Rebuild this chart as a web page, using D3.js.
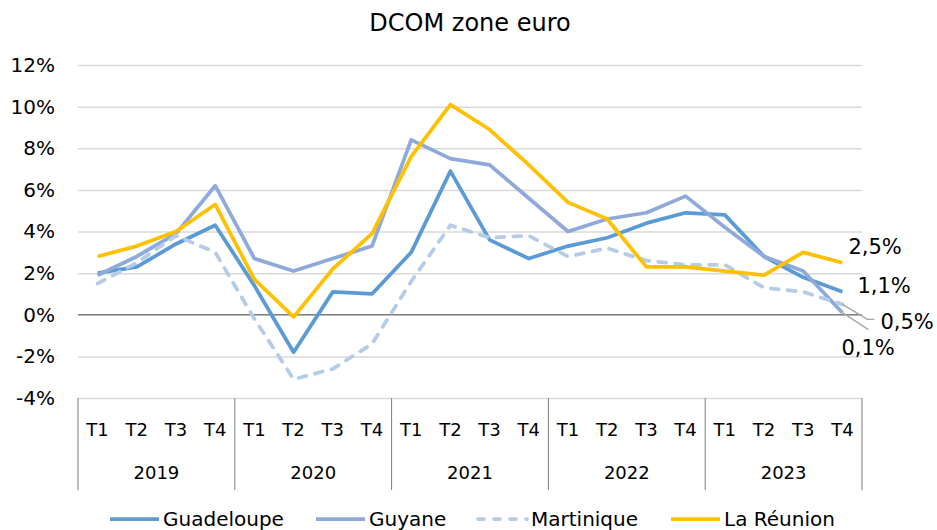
<!DOCTYPE html>
<html>
<head>
<meta charset="utf-8">
<script src="https://cdn.jsdelivr.net/npm/d3@7"></script>
<style>
  html, body { margin: 0; padding: 0; background: #fff; }
  svg { display: block; font-family: "DejaVu Sans", Verdana, sans-serif; }
</style>
</head>
<body>
<svg id="chart" width="937" height="530"></svg>
<script>
const years = ["2019", "2020", "2021", "2022", "2023"];
const quarters = ["T1", "T2", "T3", "T4"];
const yTicks = [-4, -2, 0, 2, 4, 6, 8, 10, 12];

const guadeloupe = [2.0, 2.3, 3.4, 4.3, 1.4, -1.8, 1.1, 1.0, 3.0, 6.9, 3.6, 2.7, 3.3, 3.7, 4.4, 4.9, 4.8, 2.8, 1.8, 1.1];
const guyane     = [1.9, 2.8, 3.9, 6.2, 2.7, 2.1, 2.7, 3.3, 8.4, 7.5, 7.2, 5.6, 4.0, 4.6, 4.9, 5.7, 4.2, 2.8, 2.1, 0.1];
const martinique = [1.5, 2.5, 3.8, 3.0, -0.2, -3.1, -2.6, -1.4, 1.6, 4.3, 3.7, 3.8, 2.8, 3.2, 2.6, 2.4, 2.4, 1.3, 1.1, 0.5];
const reunion    = [2.8, 3.3, 4.0, 5.3, 1.7, -0.1, 2.2, 3.9, 7.6, 10.1, 8.9, 7.2, 5.4, 4.6, 2.3, 2.3, 2.1, 1.9, 3.0, 2.5];

const seriesNames = ["Guadeloupe", "Guyane", "Martinique", "La Réunion"];
const seriesColors = ["#5B9BD5", "#8EAADB", "#B4CCE8", "#FFC000"];
const seriesDash = [null, null, "8,9", null];
const endLabels = ["1,1%", "0,1%", "0,5%", "2,5%"];

const seriesData = [guadeloupe, guyane, martinique, reunion];

(function () {
const svg = d3.select("#chart");
const pLeft = 78, pRight = 862, pTop = 65, pBottom = 398;

const categories = [];
years.forEach(yr => quarters.forEach(q => categories.push(yr + "-" + q)));

const x = d3.scaleBand().domain(categories).range([pLeft, pRight]).padding(0);
const y = d3.scaleLinear().domain([-4, 12]).range([pBottom, pTop]);
const cx = c => x(c) + x.bandwidth() / 2;

// Title
svg.append("text").attr("x", 470).attr("y", 31).attr("text-anchor", "middle")
  .attr("font-size", 24).attr("fill", "#000").text("DCOM zone euro");

// Grid + y axis
const yAxis = d3.axisLeft(y).tickValues(yTicks).tickFormat(d => d + "%")
  .tickSizeInner(-(pRight - pLeft)).tickSizeOuter(0).tickPadding(23);
const gy = svg.append("g").attr("transform", `translate(${pLeft},0)`).call(yAxis);
gy.select(".domain").remove();
gy.selectAll(".tick line").attr("stroke", "#D9D9D9").attr("stroke-width", 1.5);
gy.selectAll(".tick text").attr("font-size", 20).attr("fill", "#000")
  .attr("font-family", "DejaVu Sans, Verdana, sans-serif");

// zero line
svg.append("line").attr("x1", pLeft).attr("x2", pRight).attr("y1", y(0)).attr("y2", y(0))
  .attr("stroke", "#595959").attr("stroke-width", 1);

// Category axis (two levels)
const yearScale = d3.scaleBand().domain(years).range([pLeft, pRight]).padding(0);
const dividers = years.map(yr => yearScale(yr)).concat([pRight]);
svg.append("g").selectAll("line").data(dividers).join("line")
  .attr("x1", d => d).attr("x2", d => d).attr("y1", pBottom).attr("y2", 490)
  .attr("stroke", "#7F7F7F").attr("stroke-width", 1);

svg.append("g").selectAll("text").data(categories).join("text")
  .attr("x", d => cx(d)).attr("y", 436).attr("text-anchor", "middle")
  .attr("font-size", 18).attr("fill", "#000").text(d => d.split("-")[1]);

svg.append("g").selectAll("text").data(years).join("text")
  .attr("x", d => yearScale(d) + yearScale.bandwidth() / 2).attr("y", 479)
  .attr("text-anchor", "middle").attr("font-size", 18).attr("fill", "#000").text(d => d);

// Lines
const line = d3.line().x((d, i) => cx(categories[i])).y(d => y(d));
seriesData.forEach((s, k) => {
  svg.append("path").datum(s).attr("d", line).attr("fill", "none")
    .attr("stroke", seriesColors[k]).attr("stroke-width", 3.75)
    .attr("stroke-linejoin", "round")
    .attr("stroke-linecap", seriesDash[k] ? "round" : "butt")
    .attr("stroke-dasharray", seriesDash[k]);
});

// End labels
const lastCat = categories[categories.length - 1];
const ex = cx(lastCat);
const labelOffsets = [[15, 1], [-1, 42], [38, 25], [6, -9]];
seriesData.forEach((s, k) => {
  const ey = y(s[s.length - 1]);
  svg.append("text").attr("x", ex + labelOffsets[k][0]).attr("y", ey + labelOffsets[k][1])
    .attr("font-size", 21).attr("fill", "#000").text(endLabels[k]);
});
// leader lines for 0,5% and 0,1%
const eyM = y(martinique[martinique.length - 1]);
const eyG = y(guyane[guyane.length - 1]);
svg.append("path").attr("d", `M${ex},${eyM} L${ex + 25},${eyM + 15} L${ex + 32},${eyM + 15}`)
  .attr("fill", "none").attr("stroke", "#A6A6A6").attr("stroke-width", 1.3);
svg.append("path").attr("d", `M${ex},${eyG} L${ex + 26},${eyG + 17}`)
  .attr("fill", "none").attr("stroke", "#A6A6A6").attr("stroke-width", 1.3);

// Legend
const legendX = [110, 316, 478, 671];
const lg = svg.append("g");
seriesNames.forEach((n, k) => {
  lg.append("line").attr("x1", legendX[k]).attr("x2", legendX[k] + 49)
    .attr("y1", 519).attr("y2", 519)
    .attr("stroke", seriesColors[k]).attr("stroke-width", 3.75)
    .attr("stroke-linecap", seriesDash[k] ? "round" : "butt")
    .attr("stroke-dasharray", seriesDash[k] ? "6,10" : null);
  lg.append("text").attr("x", legendX[k] + 53).attr("y", 526)
    .attr("font-size", 20).attr("fill", "#000").text(n);
});
})();
</script>
</body>
</html>
